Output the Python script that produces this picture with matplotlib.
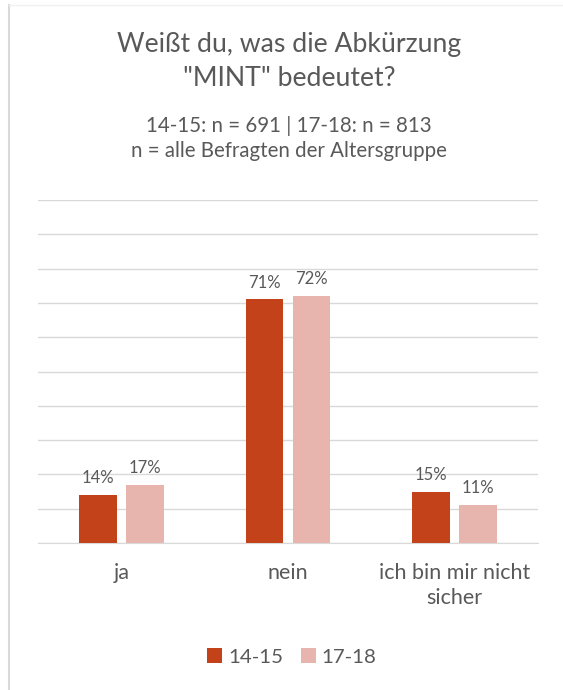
import matplotlib
matplotlib.use("Agg")
import matplotlib.pyplot as plt
import numpy as np

categories = ["ja", "nein", "ich bin mir nicht\nsicher"]
series_names = ["14-15", "17-18"]
values_1415 = [14, 71, 15]
values_1718 = [17, 72, 11]
colors = ["#C4421A", "#E8B4AE"]
title = "Weißt du, was die Abkürzung\n\"MINT\" bedeutet?"
subtitle = "14-15: n = 691 | 17-18: n = 813\nn = alle Befragten der Altersgruppe"

plt.rcParams['font.family'] = ['Lato', 'DejaVu Sans']
txt = "#595959"

fig = plt.figure(figsize=(5.63, 6.9), dpi=100)
W, H = 563, 690
ax = fig.add_axes([38 / W, 1 - 543 / H, 500 / W, 343 / H])

x = np.arange(len(categories))
bw = 0.227
off = 0.141
for vals, c, name, d in [(values_1415, colors[0], series_names[0], -off),
                         (values_1718, colors[1], series_names[1], off)]:
    bars = ax.bar(x + d, vals, width=bw, color=c, label=name, zorder=3)
    for b, v in zip(bars, vals):
        ax.text(b.get_x() + b.get_width() / 2, v + 2.6, f"{v}%", ha="center",
                va="bottom", fontsize=12, color=txt)

ax.set_xlim(-0.5, 2.5)
ax.set_ylim(0, 100)
ax.set_yticks(np.arange(0, 101, 10))
ax.yaxis.grid(True, color="#D9D9D9", linewidth=1, zorder=0)
ax.tick_params(axis="y", left=False, labelleft=False)
ax.tick_params(axis="x", bottom=False, labelsize=15.5, labelcolor=txt, pad=11)
ax.set_xticks(x)
ax.set_xticklabels(categories, linespacing=1.3)
for s in ["top", "right", "left"]:
    ax.spines[s].set_visible(False)
ax.spines["bottom"].set_color("#D9D9D9")

cx = 289 / W
fig.text(cx, 1 - 61.5 / H, title, ha="center", va="center", fontsize=19.2,
         color=txt, linespacing=1.42)
fig.text(cx, 1 - 138.5 / H, subtitle, ha="center", va="center", fontsize=14.8,
         color=txt, linespacing=1.35)

leg = fig.legend(loc="center", bbox_to_anchor=(292 / W, 1 - 657 / H), ncol=2,
                 frameon=False, fontsize=14.7, handlelength=0.7, handleheight=0.7,
                 handletextpad=0.3, columnspacing=0.9, labelcolor=txt)

# frame line at left
fig.add_artist(plt.Line2D([9 / W, 9 / W], [0, 1 - 5 / H], color="#D9D9D9", lw=1.5))
fig.add_artist(plt.Line2D([9 / W, 1], [1 - 5 / H, 1 - 5 / H], color="#F0F0F0", lw=1))

fig.savefig("out.png", dpi=100)
